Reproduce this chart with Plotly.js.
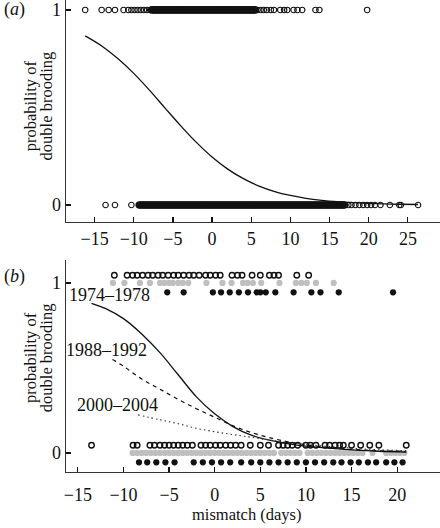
<!DOCTYPE html>
<html>
<head>
<meta charset="utf-8">
<script src="https://cdn.plot.ly/plotly-3.0.1.min.js"></script>
<style>html,body{margin:0;padding:0;background:#fff;}#chart{width:440px;height:528px;}</style>
</head>
<body>
<div id="chart"></div>
<script>
// ---------- Panel (a): all years ----------
// isolated observations (drawn as plain open circles)
var aSuccessSparseX = [-16.2,-14.1,-13.2,-12.4,-11.3,-10.7,-10.3,-9.9,-9.5,-9.1,-8.7,-8.3,-7.9,
  5.8,6.2,6.6,7.0,7.5,7.9,8.7,9.2,9.6,10.4,10.9,11.5,13.2,13.7,19.8];
// tightly packed observations (form a solid band)
var aSuccessDenseX = [-7.7,-7.5,-7.3,-7.1,-6.9,-6.7,-6.5,-6.3,-6.1,-5.9,-5.7,-5.5,-5.3,-5.1,-4.9,-4.7,-4.5,-4.3,-4.1,-3.9,-3.7,-3.5,-3.3,-3.1,-2.9,-2.7,-2.5,-2.3,-2.1,-1.9,-1.7,-1.5,-1.3,-1.1,-0.9,-0.7,-0.5,-0.3,-0.1,0.1,0.3,0.5,0.7,0.9,1.1,1.3,1.5,1.7,1.9,2.1,2.3,2.5,2.7,2.9,3.1,3.3,3.5,3.7,3.9,4.1,4.3,4.5,4.7,4.9,5.1,5.3,5.5];
var aFailSparseX = [-13.6,-12.4,-10.3,17.4,17.8,18.3,18.8,19.3,19.8,20.3,20.8,21.5,22.7,23.9,24.1,26.3];
var aFailDenseX = [-9.3,-9.1,-8.9,-8.7,-8.5,-8.3,-8.1,-7.9,-7.7,-7.5,-7.3,-7.1,-6.9,-6.7,-6.5,-6.3,-6.1,-5.9,-5.7,-5.5,-5.3,-5.1,-4.9,-4.7,-4.5,-4.3,-4.1,-3.9,-3.7,-3.5,-3.3,-3.1,-2.9,-2.7,-2.5,-2.3,-2.1,-1.9,-1.7,-1.5,-1.3,-1.1,-0.9,-0.7,-0.5,-0.3,-0.1,0.1,0.3,0.5,0.7,0.9,1.1,1.3,1.5,1.7,1.9,2.1,2.3,2.5,2.7,2.9,3.1,3.3,3.5,3.7,3.9,4.1,4.3,4.5,4.7,4.9,5.1,5.3,5.5,5.7,5.9,6.1,6.3,6.5,6.7,6.9,7.1,7.3,7.5,7.7,7.9,8.1,8.3,8.5,8.7,8.9,9.1,9.3,9.5,9.7,9.9,10.1,10.3,10.5,10.7,10.9,11.1,11.3,11.5,11.7,11.9,12.1,12.3,12.5,12.7,12.9,13.1,13.3,13.5,13.7,13.9,14.1,14.3,14.5,14.7,14.9,15.1,15.3,15.5,15.7,15.9,16.1,16.3,16.5,16.7,16.9];
var aCurveX = [-16.2,-14,-12,-10,-8,-6,-4,-2,0,2,4,6,8,10,12,14,16,18,20,22,24,26.3];
var aCurveP = [0.867,0.813,0.750,0.675,0.589,0.497,0.406,0.321,0.246,0.184,0.135,0.097,0.069,0.049,0.034,0.024,0.017,0.012,0.008,0.0055,0.004,0.0025];

// ---------- Panel (b): three periods ----------
var periods = ['1974\u20131978', '1988\u20131992', '2000\u20132004'];
var b74SuccessX = [-11.0,-9.6,-9.0,-8.5,-7.9,-7.3,-6.8,-6.2,-5.7,-5.1,-4.5,-4.0,-3.4,-2.8,-2.3,-1.7,-1.0,-0.5,0.1,0.6,1.9,2.5,3.0,4.1,5.0,6.0,6.5,7.0,9.0,10.3];
var b74FailX = [-13.5,-8.95,-8.5,-7.1,-6.6,-6.0,-5.5,-5.0,-4.5,-4.0,-3.5,-3.0,-2.45,-1.5,-1.0,-0.5,0.1,0.6,1.2,1.75,2.3,2.9,3.9,5.0,5.9,7.0,7.5,8.0,8.5,9.1,10.0,10.5,11.1,12.1,12.6,13.2,13.7,14.1,15.0,16.0,17.0,18.0,21.0];
var b88SuccessX = [-11.15,-9.9,-8.2,-7.1,-6.0,-5.5,-5.0,-4.6,-4.0,-3.5,-2.9,-0.9,0.85,1.85,3.1,3.6,4.2,5.1,7.1,8.9,9.5,10.1,11.1,13.05];
var b88FailX = [-9.0,-8.5,-8.0,-7.5,-7.0,-6.5,-6.0,-5.5,-5.0,-4.5,-4.0,-3.5,-3.0,-2.5,-2.0,-1.5,-1.0,-0.5,0.0,0.5,1.0,1.5,2.0,2.5,3.0,3.5,4.0,4.5,5.0,5.5,6.0,6.5,7.3,7.8,8.3,8.8,9.3,10.2,10.7,11.2,11.7,12.2,12.7,13.2,13.7,14.2,14.7,15.2,15.7,16.2,17.3,18.8,19.3,19.8,20.3,20.8];
var b00SuccessX = [-5.2,-3.4,-0.2,0.7,1.65,2.65,3.65,4.6,5.0,5.6,6.65,8.65,10.6,11.6,13.6,19.55];
var b00FailX = [-8.3,-7.4,-6.4,-5.4,-4.4,-2.3,-1.3,-0.3,0.7,1.7,2.9,4.0,5.0,6.0,7.0,8.0,9.0,10.0,11.0,12.0,13.0,13.9,14.9,15.8,16.8,17.7,18.8,19.7,20.6];

var b74CurveX = [-13.5,-12,-10,-8,-6,-4,-2,0,2,4,6,8,10,12,14,16,18,21];
var b74CurveP = [0.88,0.85,0.79,0.70,0.59,0.46,0.33,0.23,0.155,0.105,0.075,0.055,0.04,0.03,0.022,0.015,0.01,0.005];
var b88CurveX = [-11.2,-10,-8,-6,-4,-2,0,2,4,6,8,10,12,14,16,18,21];
var b88CurveP = [0.55,0.51,0.435,0.375,0.315,0.26,0.21,0.16,0.12,0.09,0.066,0.048,0.035,0.025,0.018,0.013,0.008];
var b00CurveX = [-8.4,-6,-4,-2,0,2,4,6,8,10,12,14,16,18,21];
var b00CurveP = [0.224,0.195,0.172,0.145,0.125,0.108,0.092,0.076,0.062,0.05,0.04,0.032,0.025,0.019,0.013];

var xTicksA = [-15,-10,-5,0,5,10,15,20,25];
var xTicksB = [-15,-10,-5,0,5,10,15,20];
var yTicks = [0,1];

// ---------- styling ----------
var FONT = '"Liberation Serif", "Times New Roman", Times, serif';
var INK = '#111';
var GRAY = '#bfbfbf';
var OPEN_OFF = 0.045, FILL_OFF = -0.055;

function rep(arr, v) { return arr.map(function(){ return v; }); }

var openA = {symbol:'circle-open', size:5.5, color:INK, line:{width:1.1, color:INK}};
var openDense = {symbol:'circle-open', size:5.5, color:INK, line:{width:2.2, color:INK}};
var openB = {symbol:'circle-open', size:5.5, color:INK, line:{width:1.4, color:INK}};
var fillGray = {symbol:'circle', size:6.2, color:GRAY};
var fillBlack = {symbol:'circle', size:6.2, color:INK};

function pts(x, y, xa, ya, marker) {
  return {x:x, y:y, xaxis:xa, yaxis:ya, type:'scatter', mode:'markers', marker:marker, cliponaxis:false, hoverinfo:'skip'};
}
function curve(x, y, xa, ya, line) {
  line.shape = 'spline';
  return {x:x, y:y, xaxis:xa, yaxis:ya, type:'scatter', mode:'lines', line:line, hoverinfo:'skip'};
}

var traces = [
  pts(aSuccessDenseX, rep(aSuccessDenseX,1), 'x','y', openDense),
  pts(aSuccessSparseX, rep(aSuccessSparseX,1), 'x','y', openA),
  pts(aFailDenseX, rep(aFailDenseX,0), 'x','y', openDense),
  pts(aFailSparseX, rep(aFailSparseX,0), 'x','y', openA),
  curve(aCurveX, aCurveP, 'x','y', {color:INK, width:1.3}),

  pts(b88SuccessX, rep(b88SuccessX,1), 'x2','y2', fillGray),
  pts(b88FailX, rep(b88FailX,0), 'x2','y2', fillGray),
  pts(b74SuccessX, rep(b74SuccessX,1+OPEN_OFF), 'x2','y2', openB),
  pts(b74FailX, rep(b74FailX,0+OPEN_OFF), 'x2','y2', openB),
  pts(b00SuccessX, rep(b00SuccessX,1+FILL_OFF), 'x2','y2', fillBlack),
  pts(b00FailX, rep(b00FailX,0+FILL_OFF), 'x2','y2', fillBlack),

  curve(b74CurveX, b74CurveP, 'x2','y2', {color:INK, width:1.3}),
  curve(b88CurveX, b88CurveP, 'x2','y2', {color:INK, width:1.2, dash:'4px,4px'}),
  curve(b00CurveX, b00CurveP, 'x2','y2', {color:'#333', width:1.1, dash:'1.5px,3px'})
];

function xax(ticks, range, anchor, standoff) {
  return {anchor:anchor, domain:[0,1], range:range, tickvals:ticks, ticks:'inside', ticklen:5, tickwidth:1.2, tickcolor:INK,
    showline:true, linecolor:'#333', linewidth:1.3, zeroline:false, showgrid:false, ticklabelstandoff:standoff,
    tickfont:{family:FONT, size:18, color:INK}, fixedrange:true};
}
function yax(domain, range, anchor) {
  return {anchor:anchor, domain:domain, range:range, tickvals:yTicks, ticks:'inside', ticklen:5, tickwidth:1.2, tickcolor:INK,
    showline:true, linecolor:'#333', linewidth:1.3, zeroline:false, showgrid:false,
    tickfont:{family:FONT, size:18, color:INK}, fixedrange:true};
}

var ann = [];
function txt(text, x, y, size, angle, xanchor) {
  ann.push({text:text, xref:'paper', yref:'paper', x:x, y:y, showarrow:false, textangle:angle||0,
    xanchor:xanchor||'center', yanchor:'middle', font:{family:FONT, size:size, color:INK}});
}
txt('(<i>a</i>)', -0.171, 0.979, 18, 0, 'left');
txt('(<i>b</i>)', -0.171, 0.415, 18, 0, 'left');
txt('probability of', -0.096, 0.775, 16.5, -90);
txt('double brooding', -0.053, 0.775, 16.5, -90);
txt('probability of', -0.096, 0.2415, 16.5, -90);
txt('double brooding', -0.053, 0.2415, 16.5, -90);
txt('mismatch (days)', 0.484, -0.09, 16.5, 0);
txt(periods[0], 0.1176, 0.375, 18, 0);
txt(periods[1], 0.108, 0.2585, 18, 0);
txt(periods[2], 0.139, 0.142, 18, 0);

var layout = {
  width:440, height:528, margin:{l:66, r:0, t:0, b:56},
  paper_bgcolor:'#fff', plot_bgcolor:'#fff', showlegend:false,
  xaxis: xax(xTicksA, [-18.65, 29.1], 'y', 0),
  yaxis: yax([0.5297, 1], [-0.087, 1.051], 'x'),
  xaxis2: xax(xTicksB, [-16.3, 24.7], 'y2', 6),
  yaxis2: yax([0, 0.4492], [-0.112, 1.135], 'x2'),
  annotations: ann
};

Plotly.newPlot('chart', traces, layout, {staticPlot:true, displayModeBar:false});
</script>
</body>
</html>
